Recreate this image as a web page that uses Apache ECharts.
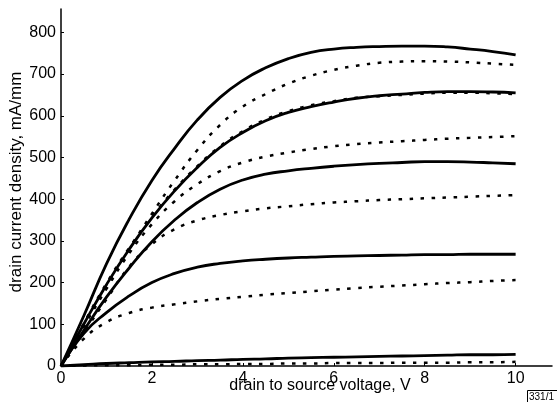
<!DOCTYPE html>
<html>
<head>
<meta charset="utf-8">
<script src="https://cdn.jsdelivr.net/npm/echarts@6/dist/echarts.min.js"></script>
<style>
html,body{margin:0;padding:0;background:#fff;}
#chart{width:557px;height:402px;}
</style>
</head>
<body>
<div id="chart"></div>
<script>
// drain-source voltage (V)
const voltage = [0,0.5,1,1.5,2,2.5,3,3.5,4,4.5,5,5.5,6,6.5,7,7.5,8,8.5,9,9.5,10];
// solid curves (mA/mm)
const solid1 = [0,120,245,352,445,522,590,644,685,715,737,752,760,764,766,767,767,765,760,754,746];
const solid2 = [0,100,195,280,355,420,476,524,560,588,608,622,633,642,648,652,656,658,658,657,655];
const solid3 = [0,85,165,235,298,350,392,424,446,460,468,474,479,483,486,488,490,490,489,487,485];
const solid4 = [0,78,128,168,200,222,237,246,252,256,259,261,263,264,265,266,267,267,268,268,268];
const solid5 = [0,3,6,8,10,11,13,14,16,17,19,20,21,22,23,24,25,26,27,27,28];
// dotted curves (mA/mm)
const dotted1 = [0,95,190,280,365,445,518,578,622,652,677,696,710,720,727,730,731,730,728,725,722];
const dottedX = [0,102,198,283,358,423,479,527,563,591,611,625,635,643,647,650,653,655,655,654,652];
const dotted2 = [0,95,185,270,340,395,436,467,488,502,512,520,527,532,536,539,542,545,547,549,551];
const dotted3 = [0,80,160,238,292,328,349,362,371,378,383,388,392,395,398,400,402,404,406,408,410];
const dotted4 = [0,65,105,127,140,148,155,161,166,171,175,179,183,187,190,193,196,199,201,204,206];
const dotted5 = [0,1,2,2,3,3,4,4,5,5,6,6,7,7,7,8,8,8,9,9,10];
// tick labels
const xTicks = [0,2,4,6,8,10];
const yTicks = [0,100,200,300,400,500,600,700,800];

const FONT = 'Liberation Sans, Arial, Helvetica, sans-serif';
function pairs(ys){ return voltage.map((v,i)=>[v, ys[i]]); }
function solid(ys){
  return {type:'line', data:pairs(ys), smooth:true, showSymbol:false, symbol:'none',
    lineStyle:{color:'#000', width:2.8}, z:3, animation:false};
}
function dotted(ys){
  return {type:'line', data:pairs(ys), smooth:true, showSymbol:false, symbol:'none',
    lineStyle:{color:'#000', width:2.5, type:[3.5,7.5]}, z:2, animation:false};
}

const chart = echarts.init(document.getElementById('chart'), null, {renderer:'canvas'});
chart.setOption({
  animation:false,
  backgroundColor:'#fff',
  grid:{left:61, right:5, top:9, bottom:36, containLabel:false},
  xAxis:{
    type:'value', min:0, max:10.8,
    axisLine:{lineStyle:{color:'#000', width:1.5}},
    axisTick:{inside:true, length:3, customValues:xTicks, lineStyle:{color:'#000'}},
    axisLabel:{customValues:xTicks, color:'#000', fontSize:16, fontFamily:FONT, margin:5},
    splitLine:{show:false}
  },
  yAxis:{
    type:'value', min:0, max:856,
    axisLine:{show:true, lineStyle:{color:'#000', width:1.5}},
    axisTick:{show:true, inside:true, length:3, customValues:yTicks, lineStyle:{color:'#000'}},
    axisLabel:{customValues:yTicks, color:'#000', fontSize:16, fontFamily:FONT, margin:5},
    splitLine:{show:false}
  },
  series:[
    solid(solid1), solid(solid2), solid(solid3), solid(solid4), solid(solid5),
    dotted(dotted1), dotted(dottedX), dotted(dotted2), dotted(dotted3), dotted(dotted4), dotted(dotted5)
  ],
  graphic:[
    {type:'text', x:320, y:386, style:{text:'drain to source voltage, V', font:'16px '+FONT, fill:'#000', align:'center', verticalAlign:'middle'}},
    {type:'text', x:16, y:182, rotation:Math.PI/2, style:{text:'drain current density, mA/mm', font:'17px '+FONT, fill:'#000', align:'center', verticalAlign:'middle'}},
    {type:'rect', shape:{x:527.5, y:390.5, width:40, height:13}, style:{fill:'#fff', stroke:'#000', lineWidth:1}},
    {type:'text', x:529, y:397, style:{text:'331/1', font:'10px '+FONT, fill:'#000', align:'left', verticalAlign:'middle'}}
  ]
});
</script>
</body>
</html>
